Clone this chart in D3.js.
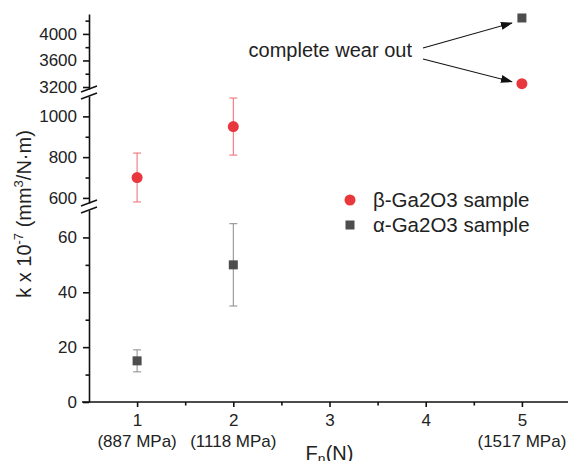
<!DOCTYPE html>
<html>
<head>
<meta charset="utf-8">
<script src="https://cdn.jsdelivr.net/npm/d3@7"></script>
<style>
  body { margin: 0; background: #fff; }
  svg { font-family: "Liberation Sans", Arial, sans-serif; }
</style>
</head>
<body>
<script>
// data
var loads = [1, 2, 5];
var pressureLabels = ["(887 MPa)", "(1118 MPa)", "(1517 MPa)"];
var betaValues = [700, 950, 3250];
var betaErrLow = [580, 810, null];
var betaErrHigh = [820, 1090, null];
var alphaValues = [15, 50, 4240];
var alphaErrLow = [11, 35, null];
var alphaErrHigh = [19, 65, null];
var xTicks = [1, 2, 3, 4, 5];
var xMinor = [1.5, 2.5, 3.5, 4.5];
var topTicks = [3200, 3600, 4000], topMinor = [3400, 3800, 4200];
var midTicks = [600, 800, 1000], midMinor = [700, 900];
var lowTicks = [0, 20, 40, 60], lowMinor = [10, 30, 50];

var width = 568, height = 461;
var svg = d3.select("body").append("svg")
            .attr("width", width)
            .attr("height", height);

var x = d3.scaleLinear().domain([0.5, 5.5]).range([89, 570]);

// three y segments of the broken axis
var yTop = d3.scaleLinear().domain([3170, 4300]).range([89, 14]);
var yMid = d3.scaleLinear().domain([575, 1100]).range([203, 96]);
var yLow = d3.scaleLinear().domain([0, 70]).range([402, 210]);

function yAny(v) {
    if (v >= 3000) return yTop(v);
    if (v >= 300) return yMid(v);
    return yLow(v);
}

var red = "#e8383d", gray = "#4d4d4d";

function drawSeg(scale, major, minor) {
    var g = svg.append("g").attr("transform", "translate(89,0)");
    g.call(d3.axisLeft(scale).tickValues(major).tickSize(6).tickSizeOuter(0).tickPadding(6).tickFormat(d3.format("d")));
    g.selectAll(".tick text").attr("font-size", 17).attr("fill", "#222");
    g.selectAll("path, line").attr("stroke", "#111").attr("stroke-width", 1.6);
    var m = svg.append("g").attr("transform", "translate(89,0)");
    m.call(d3.axisLeft(scale).tickValues(minor).tickSize(3.5).tickSizeOuter(0).tickFormat(""));
    m.select(".domain").remove();
    m.selectAll("line").attr("stroke", "#111").attr("stroke-width", 1.6);
}
drawSeg(yTop, topTicks, topMinor);
drawSeg(yMid, midTicks, midMinor);
drawSeg(yLow, lowTicks, lowMinor);

// break marks
[yTop.range()[0], yMid.range()[0]].forEach(function(yb) {
    [yb, yb + 7].forEach(function(yy) {
        svg.append("line")
           .attr("x1", 81).attr("y1", yy + 3)
           .attr("x2", 97).attr("y2", yy - 3)
           .attr("stroke", "#111").attr("stroke-width", 1.4);
    });
});

// x axis
var xg = svg.append("g").attr("transform", "translate(0,402)");
xg.call(d3.axisBottom(x).tickValues(xTicks).tickSize(5).tickSizeOuter(0).tickPadding(7).tickFormat(d3.format("d")));
xg.selectAll(".tick text").attr("font-size", 17).attr("fill", "#222");
xg.selectAll("path, line").attr("stroke", "#111").attr("stroke-width", 1.6);
xg.select(".domain").attr("d", "M82,0H570");
var xm = svg.append("g").attr("transform", "translate(0,402)");
xm.call(d3.axisBottom(x).tickValues(xMinor).tickSize(3.5).tickSizeOuter(0).tickFormat(""));
xm.select(".domain").remove();
xm.selectAll("line").attr("stroke", "#111").attr("stroke-width", 1.6);

svg.append("g").selectAll("text")
   .data(loads)
   .join("text")
   .attr("x", function(d) { return x(d); })
   .attr("y", 447)
   .attr("text-anchor", "middle")
   .attr("font-size", 17)
   .attr("fill", "#222")
   .text(function(d, i) { return pressureLabels[i]; });

// axis titles
var xt = svg.append("text")
            .attr("x", x(3))
            .attr("y", 460)
            .attr("text-anchor", "middle")
            .attr("font-size", 20)
            .attr("fill", "#222");
xt.append("tspan").text("F");
xt.append("tspan").attr("font-size", 14).attr("dy", 4).text("n");
xt.append("tspan").attr("dy", -4).text("(N)");

var yt = svg.append("text")
            .attr("transform", "translate(31,214) rotate(-90)")
            .attr("text-anchor", "middle")
            .attr("font-size", 20)
            .attr("fill", "#222");
yt.append("tspan").text("k x 10");
yt.append("tspan").attr("font-size", 13).attr("dy", -8).text("-7");
yt.append("tspan").attr("dy", 8).text(" (mm");
yt.append("tspan").attr("font-size", 13).attr("dy", -8).text("3");
yt.append("tspan").attr("dy", 8).text("/N\u00b7m)");

// error bars
function errBars(vals, lo, hi, color) {
    var g = svg.append("g").attr("stroke", color).attr("stroke-width", 1);
    loads.forEach(function(l, i) {
        if (lo[i] == null) return;
        var cx = x(l);
        g.append("line").attr("x1", cx).attr("x2", cx).attr("y1", yAny(lo[i])).attr("y2", yAny(hi[i]));
        g.append("line").attr("x1", cx - 4).attr("x2", cx + 4).attr("y1", yAny(lo[i])).attr("y2", yAny(lo[i]));
        g.append("line").attr("x1", cx - 4).attr("x2", cx + 4).attr("y1", yAny(hi[i])).attr("y2", yAny(hi[i]));
    });
}
errBars(betaValues, betaErrLow, betaErrHigh, "#ee6a6e");
errBars(alphaValues, alphaErrLow, alphaErrHigh, "#8a8a8a");

svg.append("g").selectAll("circle")
   .data(betaValues)
   .join("circle")
   .attr("cx", function(d, i) { return x(loads[i]); })
   .attr("cy", function(d) { return yAny(d); })
   .attr("r", 5.5)
   .attr("fill", red);

svg.append("g").selectAll("rect")
   .data(alphaValues)
   .join("rect")
   .attr("x", function(d, i) { return x(loads[i]) - 4.5; })
   .attr("y", function(d) { return yAny(d) - 4.5; })
   .attr("width", 9)
   .attr("height", 9)
   .attr("fill", gray);

// legend
var leg = svg.append("g").attr("transform", "translate(350,200)");
leg.append("circle").attr("cx", 0).attr("cy", 0).attr("r", 5.5).attr("fill", red);
leg.append("rect").attr("x", -4.5).attr("y", 20.5).attr("width", 9).attr("height", 9).attr("fill", gray);
leg.append("text").attr("x", 23).attr("y", 7).attr("font-size", 20.5).attr("fill", "#222").text("\u03b2-Ga2O3 sample");
leg.append("text").attr("x", 23).attr("y", 32).attr("font-size", 20.5).attr("fill", "#222").text("\u03b1-Ga2O3 sample");

// annotation with arrows
var defs = svg.append("defs");
defs.append("marker")
    .attr("id", "arrow")
    .attr("markerUnits", "userSpaceOnUse")
    .attr("markerWidth", 12)
    .attr("markerHeight", 12)
    .attr("viewBox", "0 0 12 12")
    .attr("refX", 11)
    .attr("refY", 6)
    .attr("orient", "auto")
  .append("path")
    .attr("d", "M0,2 L12,6 L0,10 Z")
    .attr("fill", "#111");

svg.append("text")
   .attr("x", 412)
   .attr("y", 57)
   .attr("text-anchor", "end")
   .attr("font-size", 20)
   .attr("fill", "#222")
   .text("complete wear out");

var last = loads.length - 1;
[[48, yAny(alphaValues[last]) + 5], [59, yAny(betaValues[last]) - 2]].forEach(function(p) {
    svg.append("line")
       .attr("x1", 423).attr("y1", p[0])
       .attr("x2", x(loads[last]) - 10).attr("y2", p[1])
       .attr("stroke", "#111")
       .attr("stroke-width", 1.1)
       .attr("marker-end", "url(#arrow)");
});
</script>
</body>
</html>
